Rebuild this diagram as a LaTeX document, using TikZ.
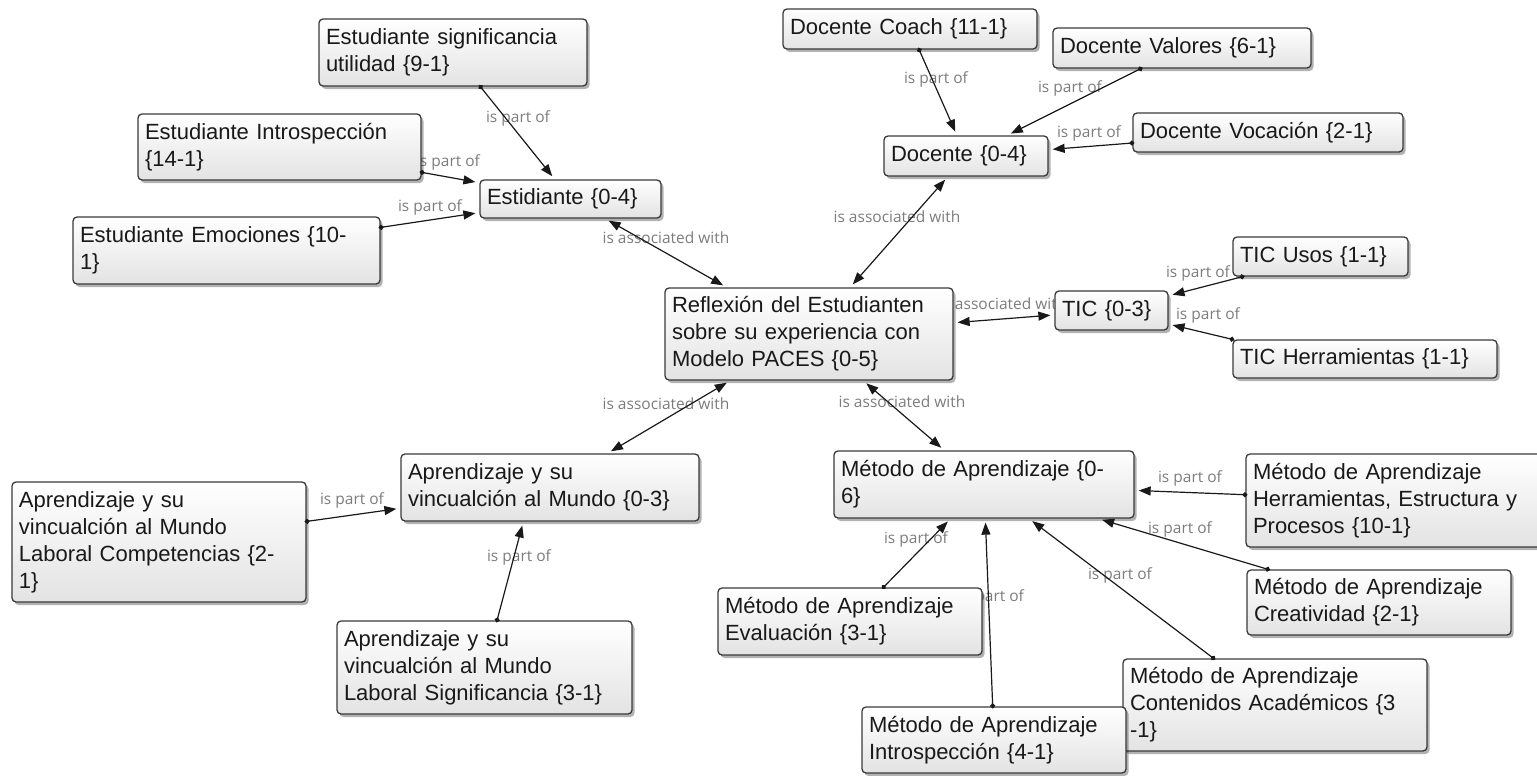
\documentclass[tikz,border=0pt]{standalone}
\usepackage{fontspec}
\setmainfont{Liberation Sans}
\newfontfamily\linkfont{Open Sans}
\usepackage{xcolor}
\usepackage{tikz}
\usetikzlibrary{arrows.meta,shadows}
\definecolor{boxline}{HTML}{3A3A3A}
\definecolor{linkgray}{HTML}{7C7C7C}
\tikzstyle{concept box}=[draw=boxline, line width=1.3pt, rounded corners=4pt, top color=white, bottom color=black!11, drop shadow={shadow xshift=2.5pt, shadow yshift=-3pt, fill=black, opacity=0.3}, inner xsep=7pt, inner ysep=3pt, align=left, font=\fontsize{22}{27}\selectfont, text=black!90]
\tikzstyle{link label}=[inner sep=0pt, text=linkgray, font=\linkfont\fontsize{15.5}{18}\selectfont]
\tikzstyle{part edge}=[{Circle[length=5pt]}-{Triangle[length=12pt, width=9pt]}, line width=1.2pt, draw=black!90, shorten <=-2pt, shorten >=4pt]
\tikzstyle{assoc edge}=[{Triangle[length=12pt, width=9pt]}-{Triangle[length=12pt, width=9pt]}, line width=1.2pt, draw=black!90, shorten <=4pt, shorten >=4pt]
\pgfdeclarelayer{labellayer}
\pgfdeclarelayer{nodelayer}
\pgfdeclarelayer{edgelayer}
\pgfsetlayers{labellayer,main,nodelayer,edgelayer}

\begin{document}
\begin{tikzpicture}[x=100pt, y=100pt]
	\useasboundingbox (0, 0) rectangle (15.37, -7.76);
	\begin{pgfonlayer}{labellayer}
		\node [style=link label] (21) at (5.18, -1.18) {is part of};
		\node [style=link label] (22) at (4.48, -1.62) {is part of};
		\node [style=link label] (23) at (4.30, -2.07) {is part of};
		\node [style=link label] (24) at (6.66, -2.38) {is associated with};
		\node [style=link label] (25) at (8.97, -2.17) {is associated with};
		\node [style=link label] (26) at (9.36, -0.79) {is part of};
		\node [style=link label] (27) at (10.70, -0.88) {is part of};
		\node [style=link label] (28) at (10.89, -1.33) {is part of};
		\node [style=link label] (29) at (10.03, -3.04) {is associated with};
		\node [style=link label] (30) at (11.98, -2.73) {is part of};
		\node [style=link label] (31) at (12.08, -3.15) {is part of};
		\node [style=link label] (32) at (6.66, -4.04) {is associated with};
		\node [style=link label] (33) at (9.02, -4.02) {is associated with};
		\node [style=link label] (34) at (3.52, -5.00) {is part of};
		\node [style=link label] (35) at (5.19, -5.57) {is part of};
		\node [style=link label] (36) at (11.90, -4.78) {is part of};
		\node [style=link label] (37) at (11.80, -5.29) {is part of};
		\node [style=link label] (38) at (9.16, -5.39) {is part of};
		\node [style=link label] (39) at (9.92, -5.97) {is part of};
		\node [style=link label] (40) at (11.20, -5.75) {is part of};
	\end{pgfonlayer}
	\begin{pgfonlayer}{nodelayer}
		\node [style=concept box, text width=254pt, minimum height=67pt] (0) at (4.53, -0.525) {Estudiante significancia\\utilidad \{9-1\}};
		\node [style=concept box, text width=269pt, minimum height=66pt] (1) at (2.795, -1.47) {Estudiante Introspección\\\{14-1\}};
		\node [style=concept box, text width=167pt, minimum height=38pt] (2) at (5.705, -1.99) {Estidiante \{0-4\}};
		\node [style=concept box, text width=293pt, minimum height=67pt] (3) at (2.265, -2.505) {Estudiante Emociones \{10-\\1\}};
		\node [style=concept box, text width=240pt, minimum height=40pt] (4) at (9.10, -0.29) {Docente Coach \{11-1\}};
		\node [style=concept box, text width=244pt, minimum height=40pt] (5) at (11.82, -0.48) {Docente Valores \{6-1\}};
		\node [style=concept box, text width=256pt, minimum height=39pt] (6) at (12.68, -1.325) {Docente Vocación \{2-1\}};
		\node [style=concept box, text width=150pt, minimum height=40pt] (7) at (9.66, -1.56) {Docente \{0-4\}};
		\node [style=concept box, text width=274pt, minimum height=92pt] (8) at (8.09, -3.34) {Reflexión del Estudianten\\sobre su experiencia con\\Modelo PACES \{0-5\}};
		\node [style=concept box, text width=99pt, minimum height=39pt] (9) at (11.115, -3.105) {TIC \{0-3\}};
		\node [style=concept box, text width=161pt, minimum height=39pt] (10) at (13.205, -2.565) {TIC Usos \{1-1\}};
		\node [style=concept box, text width=250pt, minimum height=38pt] (11) at (13.65, -3.59) {TIC Herramientas \{1-1\}};
		\node [style=concept box, text width=284pt, minimum height=67pt] (12) at (5.50, -4.875) {Aprendizaje y su\\vincualción al Mundo \{0-3\}};
		\node [style=concept box, text width=280pt, minimum height=120pt] (13) at (1.59, -5.42) {Aprendizaje y su\\vincualción al Mundo\\Laboral Competencias \{2-\\1\}};
		\node [style=concept box, text width=281pt, minimum height=93pt] (14) at (4.845, -6.675) {Aprendizaje y su\\vincualción al Mundo\\Laboral Significancia \{3-1\}};
		\node [style=concept box, text width=286pt, minimum height=67pt] (15) at (9.84, -4.845) {Método de Aprendizaje \{0-\\6\}};
		\node [style=concept box, text width=281pt, minimum height=93pt] (16) at (13.935, -5.005) {Método de Aprendizaje\\Herramientas, Estructura y\\Procesos \{10-1\}};
		\node [style=concept box, text width=250pt, minimum height=65pt] (17) at (13.79, -6.025) {Método de Aprendizaje\\Creatividad \{2-1\}};
		\node [style=concept box, text width=250pt, minimum height=67pt] (18) at (8.50, -6.215) {Método de Aprendizaje\\Evaluación \{3-1\}};
		\node [style=concept box, text width=290pt, minimum height=92pt] (19) at (12.75, -7.05) {Método de Aprendizaje\\Contenidos Académicos \{3\\-1\}};
		\node [style=concept box, text width=250pt, minimum height=66pt] (20) at (9.94, -7.40) {Método de Aprendizaje\\Introspección \{4-1\}};
	\end{pgfonlayer}
	\begin{pgfonlayer}{edgelayer}
		\draw [style=part edge] (0) to (2);
		\draw [style=part edge] (1) to (2);
		\draw [style=part edge] (3) to (2);
		\draw [style=part edge] (4) to (7);
		\draw [style=part edge] (5) to (7);
		\draw [style=part edge] (6) to (7);
		\draw [style=part edge] (10) to (9);
		\draw [style=part edge] (11.north west) to (9);
		\draw [style=part edge] (13) to (12);
		\draw [style=part edge] (14) to (12.232);
		\draw [style=part edge] (16) to (15);
		\draw [style=part edge] (17) to (15);
		\draw [style=part edge] (18) to (15);
		\draw [style=part edge] (20) to (15);
		\draw [style=part edge] (19) to (15);
		\draw [style=assoc edge] (2) to (8);
		\draw [style=assoc edge] (7) to (8);
		\draw [style=assoc edge] (8) to (9);
		\draw [style=assoc edge] (8) to (12);
		\draw [style=assoc edge] (8) to (15);
	\end{pgfonlayer}
\end{tikzpicture}
\end{document}
